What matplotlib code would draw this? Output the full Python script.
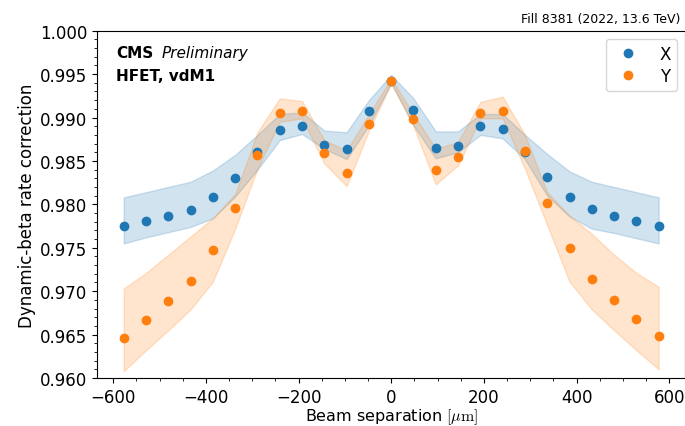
import matplotlib
matplotlib.use("Agg")
import matplotlib.pyplot as plt
import numpy as np

plt.rcParams["mathtext.fontset"] = "cm"

# scan steps (beam separation in um)
step = 48.1
sep = np.arange(-12, 13) * step

# dynamic-beta correction, X scan
corr_x = [0.9775, 0.9781, 0.9787, 0.9794, 0.9808, 0.9830, 0.9860, 0.9886, 0.9890,
          0.9868, 0.9864, 0.9907, 0.9942, 0.9909, 0.9865, 0.9867, 0.9890, 0.9887,
          0.9860, 0.9831, 0.9808, 0.9795, 0.9787, 0.9781, 0.9775]
x_hi = [0.9808, 0.9814, 0.9820, 0.9826, 0.9839, 0.9857, 0.9880, 0.9904, 0.9906,
        0.9885, 0.9883, 0.9920, 0.9949, 0.9922, 0.9884, 0.9884, 0.9904, 0.9904,
        0.9880, 0.9858, 0.9838, 0.9826, 0.9820, 0.9814, 0.9808]
x_lo = [0.9755, 0.9762, 0.9768, 0.9774, 0.9784, 0.9809, 0.9840, 0.9874, 0.9881,
        0.9864, 0.9852, 0.9891, 0.9940, 0.9891, 0.9853, 0.9860, 0.9880, 0.9876,
        0.9852, 0.9810, 0.9786, 0.9772, 0.9767, 0.9761, 0.9755]

# dynamic-beta correction, Y scan
corr_y = [0.9646, 0.9667, 0.9689, 0.9712, 0.9747, 0.9796, 0.9857, 0.9905, 0.9908,
          0.9859, 0.9836, 0.9893, 0.9942, 0.9898, 0.9839, 0.9855, 0.9905, 0.9908,
          0.9861, 0.9801, 0.9750, 0.9714, 0.9690, 0.9668, 0.9648]
y_hi = [0.9703, 0.9721, 0.9742, 0.9763, 0.9784, 0.9812, 0.9883, 0.9922, 0.9919,
        0.9874, 0.9862, 0.9904, 0.9945, 0.9904, 0.9864, 0.9872, 0.9918, 0.9924,
        0.9880, 0.9814, 0.9787, 0.9766, 0.9742, 0.9721, 0.9705]
y_lo = [0.9608, 0.9632, 0.9655, 0.9679, 0.9711, 0.9772, 0.9841, 0.9895, 0.9899,
        0.9847, 0.9821, 0.9885, 0.9939, 0.9890, 0.9823, 0.9845, 0.9899, 0.9899,
        0.9841, 0.9776, 0.9711, 0.9679, 0.9655, 0.9632, 0.9610]

fig = plt.figure(figsize=(6.85, 4.27), dpi=100)
ax = fig.add_axes([0.1416, 0.1124, 0.859, 0.8134])

ax.fill_between(sep, x_lo, x_hi, color="tab:blue", alpha=0.2)
ax.fill_between(sep, y_lo, y_hi, color="tab:orange", alpha=0.2)
ax.plot(sep, corr_x, "o", color="tab:blue", markersize=6, label="X")
ax.plot(sep, corr_y, "o", color="tab:orange", markersize=6, label="Y")

ax.set_ylim(0.960, 1.000)
ax.yaxis.set_major_formatter(matplotlib.ticker.FormatStrFormatter("%.3f"))
ax.minorticks_on()
ax.tick_params(labelsize=12)
ax.tick_params(axis="x", which="major", pad=4)

ax.set_xlabel(r"Beam separation $[\mu\mathrm{m}]$", fontsize=11.5, labelpad=0)
ax.set_ylabel("Dynamic-beta rate correction", fontsize=12, labelpad=3)

ax.text(0.032, 0.9245, "CMS", transform=ax.transAxes, fontsize=11,
        fontweight="bold", va="baseline")
ax.text(0.1105, 0.9245, "Preliminary", transform=ax.transAxes, fontsize=11,
        fontstyle="italic", va="baseline")
ax.text(0.032, 0.8585, "HFET, vdM1", transform=ax.transAxes, fontsize=11,
        fontweight="bold", va="baseline")

ax.legend(loc="upper right", fontsize=12, labelspacing=0.25,
          borderpad=0.35, handletextpad=0.9)

fig.text(0.993, 1 - 23 / 427, "Fill 8381 (2022, 13.6 TeV)", ha="right",
         va="baseline", fontsize=9)

plt.savefig("out.png", dpi=100)
